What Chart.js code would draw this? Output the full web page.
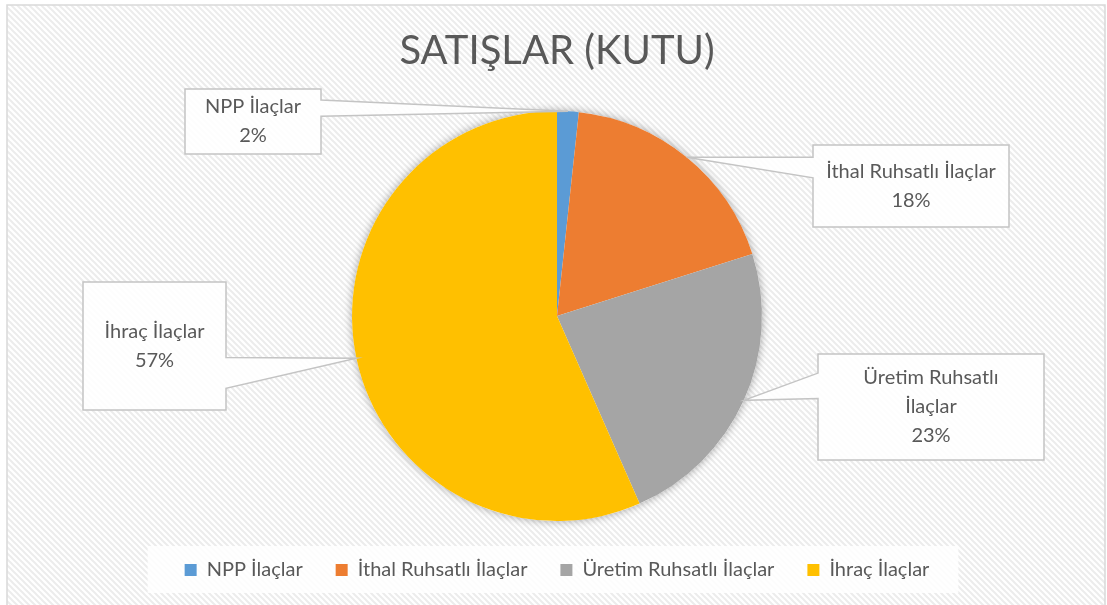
<!DOCTYPE html>
<html lang="tr">
<head>
<meta charset="utf-8">
<title>Satışlar (Kutu)</title>
<script src="https://cdn.jsdelivr.net/npm/chart.js@4.4.1/dist/chart.umd.min.js"></script>
<style>
  html, body { margin: 0; padding: 0; background: #fff; }
  #wrap { width: 1107px; height: 605px; position: relative; }
</style>
</head>
<body>
<div id="wrap"><canvas id="satislar"></canvas></div>
<script>
// veriler (yüzde paylar, pastadan okundu)
const categories = ['NPP İlaçlar', 'İthal Ruhsatlı İlaçlar', 'Üretim Ruhsatlı İlaçlar', 'İhraç İlaçlar'];
const shares = [1.7, 18.4, 23.3, 56.6];
const sliceColors = ['#5B9BD5', '#ED7D31', '#A5A5A5', '#FFC000'];

const textColor = '#595959';
const fontFamily = 'Lato, "Open Sans", sans-serif';

// etiket kutuları: pasta merkezine göre konum
const calloutBoxes = [
    { dx: -372, dy: -227, w: 136, h: 65, side: 'right', base: [0.17, 0.42] },
    { dx: 256, dy: -171, w: 196, h: 82, side: 'left', base: [0.15, 0.40] },
    { dx: 261, dy: 38, w: 226, h: 106, side: 'left', base: [0.18, 0.42], wrap: 170 },
    { dx: -474, dy: -34, w: 143, h: 128, side: 'right', base: [0.59, 0.83] },
];

function makeStripes() {
    const c = document.createElement('canvas');
    c.width = 6; c.height = 6;
    const g = c.getContext('2d');
    g.fillStyle = '#ffffff';
    g.fillRect(0, 0, 6, 6);
    g.strokeStyle = '#ececec';
    g.lineWidth = 2;
    g.beginPath();
    g.moveTo(-1, -1); g.lineTo(7, 7);
    g.moveTo(-4, 2); g.lineTo(4, 10);
    g.moveTo(2, -4); g.lineTo(10, 4);
    g.stroke();
    return g.createPattern(c, 'repeat');
}

const backgroundPlugin = {
    id: 'arkaPlan',
    beforeDraw(chart) {
        const ctx = chart.ctx;
        ctx.save();
        ctx.fillStyle = '#fff';
        ctx.fillRect(0, 0, chart.width, chart.height);
        ctx.fillStyle = makeStripes();
        ctx.fillRect(7, 5, 1098, chart.height);
        ctx.strokeStyle = '#d9d9d9';
        ctx.lineWidth = 1.5;
        ctx.strokeRect(7, 5, 1098, chart.height + 10);

        // lejant kutusu
        const boxes = chart.legend.legendHitBoxes;
        if (boxes && boxes.length) {
            const first = boxes[0];
            const last = boxes[boxes.length - 1];
            const cy = first.top + first.height / 2;
            ctx.fillStyle = 'rgba(255,255,255,0.85)';
            ctx.fillRect(first.left - 37, cy - 24, last.left + last.width - first.left + 66, 47);
        }
        ctx.restore();
    },
    beforeDatasetsDraw(chart) {
        const arc = chart.getDatasetMeta(0).data[0];
        if (!arc) return;
        const { x, y, outerRadius } = arc.getProps(['x', 'y', 'outerRadius'], true);
        const ctx = chart.ctx;
        ctx.save();
        ctx.shadowColor = 'rgba(0,0,0,0.35)';
        ctx.shadowBlur = 9;
        ctx.fillStyle = '#fff';
        ctx.beginPath();
        ctx.arc(x, y, outerRadius, 0, Math.PI * 2);
        ctx.fill();
        ctx.restore();
    }
};

function wrapWords(ctx, text, maxWidth) {
    if (!maxWidth) return [text];
    const words = text.split(' ');
    const lines = [];
    let line = '';
    words.forEach(w => {
        const test = line ? line + ' ' + w : w;
        if (line && ctx.measureText(test).width > maxWidth) {
            lines.push(line);
            line = w;
        } else {
            line = test;
        }
    });
    if (line) lines.push(line);
    return lines;
}

const calloutPlugin = {
    id: 'etiketler',
    afterDatasetsDraw(chart) {
        const ctx = chart.ctx;
        const meta = chart.getDatasetMeta(0);
        const data = chart.data.datasets[0].data;
        const total = data.reduce((a, b) => a + b, 0);
        ctx.save();
        ctx.font = '20px ' + fontFamily;
        meta.data.forEach((arc, i) => {
            const p = arc.getProps(['x', 'y', 'startAngle', 'endAngle', 'outerRadius'], true);
            const mid = (p.startAngle + p.endAngle) / 2;
            const tx = p.x + Math.cos(mid) * p.outerRadius;
            const ty = p.y + Math.sin(mid) * p.outerRadius;
            const b = calloutBoxes[i];
            const x0 = p.x + b.dx, y0 = p.y + b.dy;
            const x1 = x0 + b.w, y1 = y0 + b.h;
            const by1 = y0 + b.h * b.base[0];
            const by2 = y0 + b.h * b.base[1];

            ctx.beginPath();
            if (b.side === 'right') {
                ctx.moveTo(x0, y0);
                ctx.lineTo(x1, y0);
                ctx.lineTo(x1, by1);
                ctx.lineTo(tx, ty);
                ctx.lineTo(x1, by2);
                ctx.lineTo(x1, y1);
                ctx.lineTo(x0, y1);
            } else {
                ctx.moveTo(x0, y0);
                ctx.lineTo(x1, y0);
                ctx.lineTo(x1, y1);
                ctx.lineTo(x0, y1);
                ctx.lineTo(x0, by2);
                ctx.lineTo(tx, ty);
                ctx.lineTo(x0, by1);
            }
            ctx.closePath();
            ctx.fillStyle = 'rgba(255,255,255,0.88)';
            ctx.fill();
            ctx.strokeStyle = '#c4c4c4';
            ctx.lineWidth = 1.5;
            ctx.stroke();

            const pct = Math.round(data[i] / total * 100) + '%';
            const lines = wrapWords(ctx, chart.data.labels[i], b.wrap).concat([pct]);
            const lh = 29;
            const cx = (x0 + x1) / 2;
            let ly = (y0 + y1) / 2 - (lines.length - 1) * lh / 2;
            ctx.fillStyle = textColor;
            ctx.textAlign = 'center';
            ctx.textBaseline = 'middle';
            lines.forEach(l => {
                ctx.fillText(l, cx, ly);
                ly += lh;
            });
        });
        ctx.restore();
    }
};

const canvas = document.getElementById('satislar');
const satislarChart = new Chart(canvas, {
    type: 'pie',
    data: {
        labels: categories,
        datasets: [{
            data: shares,
            backgroundColor: sliceColors,
            borderWidth: 0,
            radius: 205,
        }],
    },
    options: {
        responsive: true,
        maintainAspectRatio: false,
        animation: false,
        layout: {
            padding: { top: 5, bottom: 15, left: 17, right: 10 },
        },
        plugins: {
            title: {
                display: true,
                text: 'SATIŞLAR (KUTU)',
                color: textColor,
                font: { family: fontFamily, size: 40, weight: 'normal' },
                padding: { top: 22, bottom: 30 },
            },
            legend: {
                display: true,
                position: 'bottom',
                labels: {
                    color: textColor,
                    font: { family: fontFamily, size: 20 },
                    boxWidth: 12,
                    boxHeight: 12,
                    padding: 33,
                },
            },
            tooltip: { enabled: false },
        },
    },
    plugins: [backgroundPlugin, calloutPlugin],
});
</script>
</body>
</html>
